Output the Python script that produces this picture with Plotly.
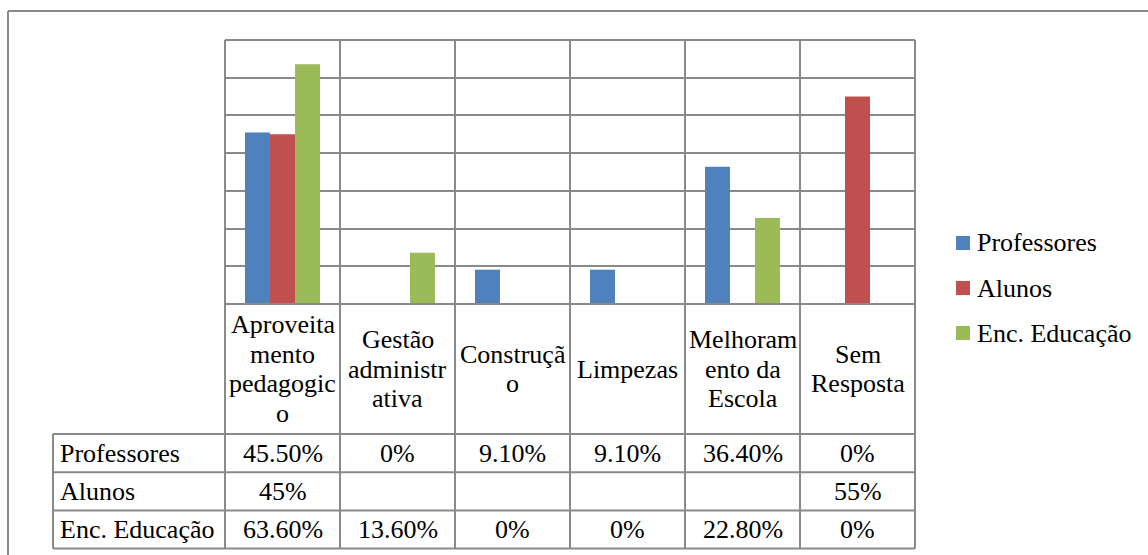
import plotly.graph_objects as go

# Survey results by category (percent)
categories = ["Aproveitamento pedagogico", "Gestão administrativa", "Construção",
              "Limpezas", "Melhoramento da Escola", "Sem Resposta"]
# Category labels as wrapped in the table header
category_lines = [["Aproveita", "mento", "pedagogic", "o"],
                  ["Gestão", "administr", "ativa"],
                  ["Construçã", "o"],
                  ["Limpezas"],
                  ["Melhoram", "ento da", "Escola"],
                  ["Sem", "Resposta"]]
series_names = ["Professores", "Alunos", "Enc. Educação"]
professores = [45.5, 0, 9.1, 9.1, 36.4, 0]
alunos = [45, None, None, None, None, 55]
enc_educacao = [63.6, 13.6, 0, 0, 22.8, 0]
series_values = [professores, alunos, enc_educacao]
colors = ["#4F81BD", "#C0504D", "#9BBB59"]

W, H = 1148, 555
FONT = "Liberation Serif"
FS = 26
LINE = "#8a8a8a"


def px(x):
    return x / W


def py(y):
    return 1 - y / H


def fmt(v):
    if v is None:
        return ""
    if float(v) == int(v):
        return f"{int(v)}%"
    return f"{v:.2f}%"


# Pixel layout of plot area and data table
plot_left, plot_right, plot_top, plot_bottom = 225, 915, 40, 304
label_left = 53
row_edges = [434, 472.3, 510.5, 548.6]

fig = go.Figure()
x_idx = list(range(len(categories)))
for name, vals, col in zip(series_names, series_values, colors):
    fig.add_trace(go.Bar(x=x_idx, y=vals, name=name, marker_color=col,
                         marker_line_width=0, showlegend=False))


def hline(y, x0, x1):
    fig.add_shape(type="line", xref="paper", yref="paper",
                  x0=px(x0), x1=px(x1), y0=py(y), y1=py(y),
                  line=dict(color=LINE, width=2))


def vline(x, y0, y1):
    fig.add_shape(type="line", xref="paper", yref="paper",
                  x0=px(x), x1=px(x), y0=py(y0), y1=py(y1),
                  line=dict(color=LINE, width=2))


def label(x, y, text, anchor="center"):
    fig.add_annotation(x=px(x), y=py(y), xref="paper", yref="paper",
                       text=text, showarrow=False, xanchor=anchor,
                       yanchor="middle",
                       font=dict(family=FONT, size=FS, color="black"))


# Outer chart frame (left and top edges)
hline(11, 8, W + 2)
vline(8, 11, H + 2)

# Plot frame top, header top, row lines
hline(plot_top, plot_left, plot_right)
hline(plot_bottom, plot_left, plot_right)
for y in row_edges:
    hline(y, label_left, plot_right)

# Column boundaries
col_w = (plot_right - plot_left) / len(categories)
for i in range(len(categories) + 1):
    vline(plot_left + i * col_w, plot_top, row_edges[-1])
vline(label_left, row_edges[0], row_edges[-1])

# Header labels, one annotation per line for tight line spacing
header_mid = (plot_bottom + row_edges[0]) / 2
line_h = 29.5
for i, lines in enumerate(category_lines):
    n = len(lines)
    for j, t in enumerate(lines):
        yc = header_mid + (j - (n - 1) / 2) * line_h
        label(plot_left + (i + 0.5) * col_w, yc, t)

# Data table rows
for r, (name, vals) in enumerate(zip(series_names, series_values)):
    yc = (row_edges[r] + row_edges[r + 1]) / 2
    label(label_left + 5, yc, name, anchor="left")
    for i, v in enumerate(vals):
        label(plot_left + (i + 0.5) * col_w, yc, fmt(v))

# Legend
leg_y = [243, 288, 333]
for name, col, yc in zip(series_names, colors, leg_y):
    fig.add_shape(type="rect", xref="paper", yref="paper",
                  x0=px(956), x1=px(970), y0=py(yc + 7), y1=py(yc - 7),
                  fillcolor=col, line=dict(width=0))
    label(975, yc, name, anchor="left")

fig.update_layout(
    width=W, height=H,
    margin=dict(l=0, r=0, t=0, b=0),
    paper_bgcolor="white", plot_bgcolor="white",
    barmode="group", bargap=0.348, bargroupgap=0,
    showlegend=False,
    font=dict(family=FONT, color="black"),
    xaxis=dict(domain=[px(plot_left), px(plot_right)], range=[-0.5, len(categories) - 0.5],
               showticklabels=False, showgrid=False, zeroline=False, ticks=""),
    yaxis=dict(domain=[py(plot_bottom), py(plot_top)], range=[0, 70], dtick=10,
               showticklabels=False, showgrid=True, gridcolor=LINE, gridwidth=2,
               zeroline=False, ticks=""),
)

fig.write_html("out.html")
